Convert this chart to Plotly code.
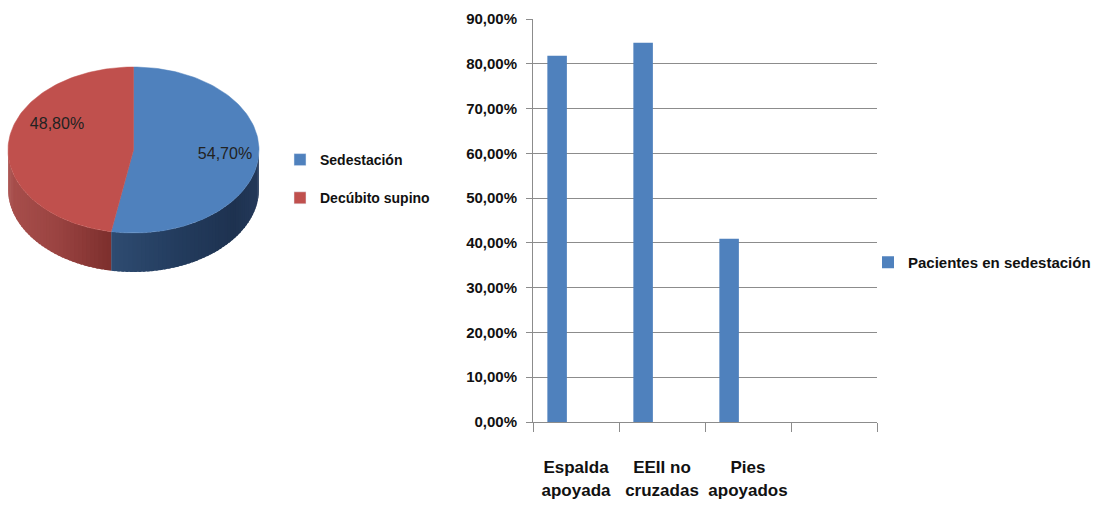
import numpy as np
import plotly.graph_objects as go

# ---------------- data ----------------
pie_labels = ["Sedestación", "Decúbito supino"]
pie_values = [54.7, 48.8]
pie_text = ["54,70%", "48,80%"]

bar_categories = ["Espalda<br>apoyada", "EEII no<br>cruzadas", "Pies<br>apoyados", " "]
bar_values = [0.818, 0.847, 0.409]
bar_series = "Pacientes en sedestación"

# ---------------- style ----------------
W, H = 1101, 516
BLUE, RED = "#4F81BD", "#C0504D"
FONT = "Liberation Sans, Arial, sans-serif"
GRID = "#8c8c8c"

# pseudo-3D pie geometry (pixel space of the left panel)
CX, CY, A, B, D = 133.5, 150.0, 125.5, 83.0, 39.0
LABEL_POS = [(225, 155), (57, 125)]

# side shading stops (t = (x-cx)/a)
SIDE_STOPS = {
    0: [(-1.0, "#3a5a86"), (-0.2, "#2f4c72"), (0.35, "#233c5e"), (0.8, "#1e3250"), (1.0, "#24395a")],
    1: [(-1.0, "#a84f4c"), (-0.6, "#9a4341"), (-0.2, "#7e302e"), (1.0, "#7a2e2c")],
}


def hex2rgb(h):
    h = h.lstrip("#")
    return np.array([int(h[i:i + 2], 16) for i in (0, 2, 4)], dtype=float)


def shade(stops, t):
    ts = [s[0] for s in stops]
    cs = [hex2rgb(s[1]) for s in stops]
    t = min(max(t, ts[0]), ts[-1])
    for i in range(len(ts) - 1):
        if ts[i] <= t <= ts[i + 1]:
            f = (t - ts[i]) / (ts[i + 1] - ts[i])
            c = cs[i] * (1 - f) + cs[i + 1] * f
            return "rgb(%d,%d,%d)" % tuple(np.round(c))
    return "rgb(%d,%d,%d)" % tuple(np.round(cs[-1]))


def ex(th):
    return CX + A * np.sin(np.radians(th))


def ey(th):
    return CY - B * np.cos(np.radians(th))


fig = go.Figure()

total = sum(pie_values)
bounds = []
start = 0.0
for v in pie_values:
    end = start + 360.0 * v / total
    bounds.append((start, end))
    start = end

# sides (front half: 90..270 deg), drawn as overlapping shaded strips
for i, (s, e) in enumerate(bounds):
    lo, hi = max(s, 90.0), min(e, 270.0)
    if hi <= lo:
        continue
    n = max(2, int(np.ceil((hi - lo) / 2.0)))
    edges = np.linspace(lo, hi, n + 1)
    for k in range(n):
        a0 = edges[k]
        a1 = min(edges[k + 1] + 1.2, hi)
        th = np.linspace(a0, a1, 5)
        xs = list(ex(th)) + list(ex(th[::-1]))
        ys = list(ey(th)) + list(ey(th[::-1]) + D)
        tmid = (ex((edges[k] + edges[k + 1]) / 2) - CX) / A
        col = shade(SIDE_STOPS[i], tmid)
        fig.add_trace(go.Scatter(x=xs, y=ys, fill="toself", fillcolor=col, mode="lines",
                                 line=dict(color=col, width=0), hoverinfo="skip",
                                 showlegend=False, xaxis="x", yaxis="y"))

# top faces
for i, (s, e) in enumerate(bounds):
    th = np.linspace(s, e, 120)
    xs = [CX] + list(ex(th)) + [CX]
    ys = [CY] + list(ey(th)) + [CY]
    col = [BLUE, RED][i]
    fig.add_trace(go.Scatter(x=xs, y=ys, fill="toself", fillcolor=col, mode="lines",
                             line=dict(color=col, width=0.5), hoverinfo="skip",
                             showlegend=False, xaxis="x", yaxis="y"))

# slice labels
fig.add_trace(go.Scatter(x=[p[0] for p in LABEL_POS], y=[p[1] for p in LABEL_POS],
                         mode="text", text=pie_text,
                         textfont=dict(family=FONT, size=16, color="#222222"),
                         hoverinfo="skip", showlegend=False, xaxis="x", yaxis="y"))

# pie legend entries
for i, lab in enumerate(pie_labels):
    fig.add_trace(go.Bar(x=[None], y=[None], name=lab, marker_color=[BLUE, RED][i],
                         legend="legend", legendgroup=lab, xaxis="x", yaxis="y"))

# bar chart
fig.add_trace(go.Bar(x=bar_categories[:len(bar_values)], y=bar_values, name=bar_series,
                     marker=dict(color=BLUE, line=dict(width=0)),
                     offset=-0.333, width=0.227, legend="legend2",
                     xaxis="x2", yaxis="y2", hoverinfo="skip"))

fig.update_layout(
    width=W, height=H,
    margin=dict(l=0, r=0, t=0, b=0),
    paper_bgcolor="white", plot_bgcolor="rgba(0,0,0,0)",
    separators=",.",
    showlegend=True,
    barmode="group",
    font=dict(family=FONT, size=15, color="#111111"),
    xaxis=dict(domain=[0, 440 / W], range=[0, 440], visible=False, fixedrange=True),
    yaxis=dict(domain=[0, 1], range=[H, 0], visible=False, fixedrange=True),
    xaxis2=dict(domain=[533 / W, 877 / W], anchor="y2", type="category",
                categoryorder="array", categoryarray=bar_categories,
                range=[-0.5, 3.5], showline=True, linecolor=GRID, linewidth=1,
                ticks="outside", tickson="boundaries", ticklen=9, tickcolor=GRID,
                showgrid=False, ticklabelstandoff=30, tickangle=0, automargin=False,
                tickfont=dict(family=FONT, size=17, color="#111111", weight="bold")),
    yaxis2=dict(domain=[(H - 422) / H, (H - 19) / H], anchor="x2", range=[0, 0.9],
                tickvals=[i / 10 for i in range(10)], tickformat=".2%",
                showline=True, linecolor=GRID, linewidth=1,
                ticks="outside", ticklen=6, tickcolor=GRID,
                showgrid=True, gridcolor=GRID, gridwidth=1, zeroline=False,
                ticklabelstandoff=6, automargin=False,
                tickfont=dict(family=FONT, size=15, color="#111111", weight="bold")),
    legend=dict(x=280 / W, y=1 - 144 / H, xanchor="left", yanchor="top",
                bgcolor="rgba(0,0,0,0)", borderwidth=0, traceorder="grouped",
                tracegroupgap=17,
                font=dict(family=FONT, size=14, color="#111111", weight="bold")),
    legend2=dict(x=868 / W, y=1 - 246 / H, xanchor="left", yanchor="top",
                 bgcolor="rgba(0,0,0,0)", borderwidth=0,
                 font=dict(family=FONT, size=15, color="#111111", weight="bold")),
)

fig.write_html("out.html")
